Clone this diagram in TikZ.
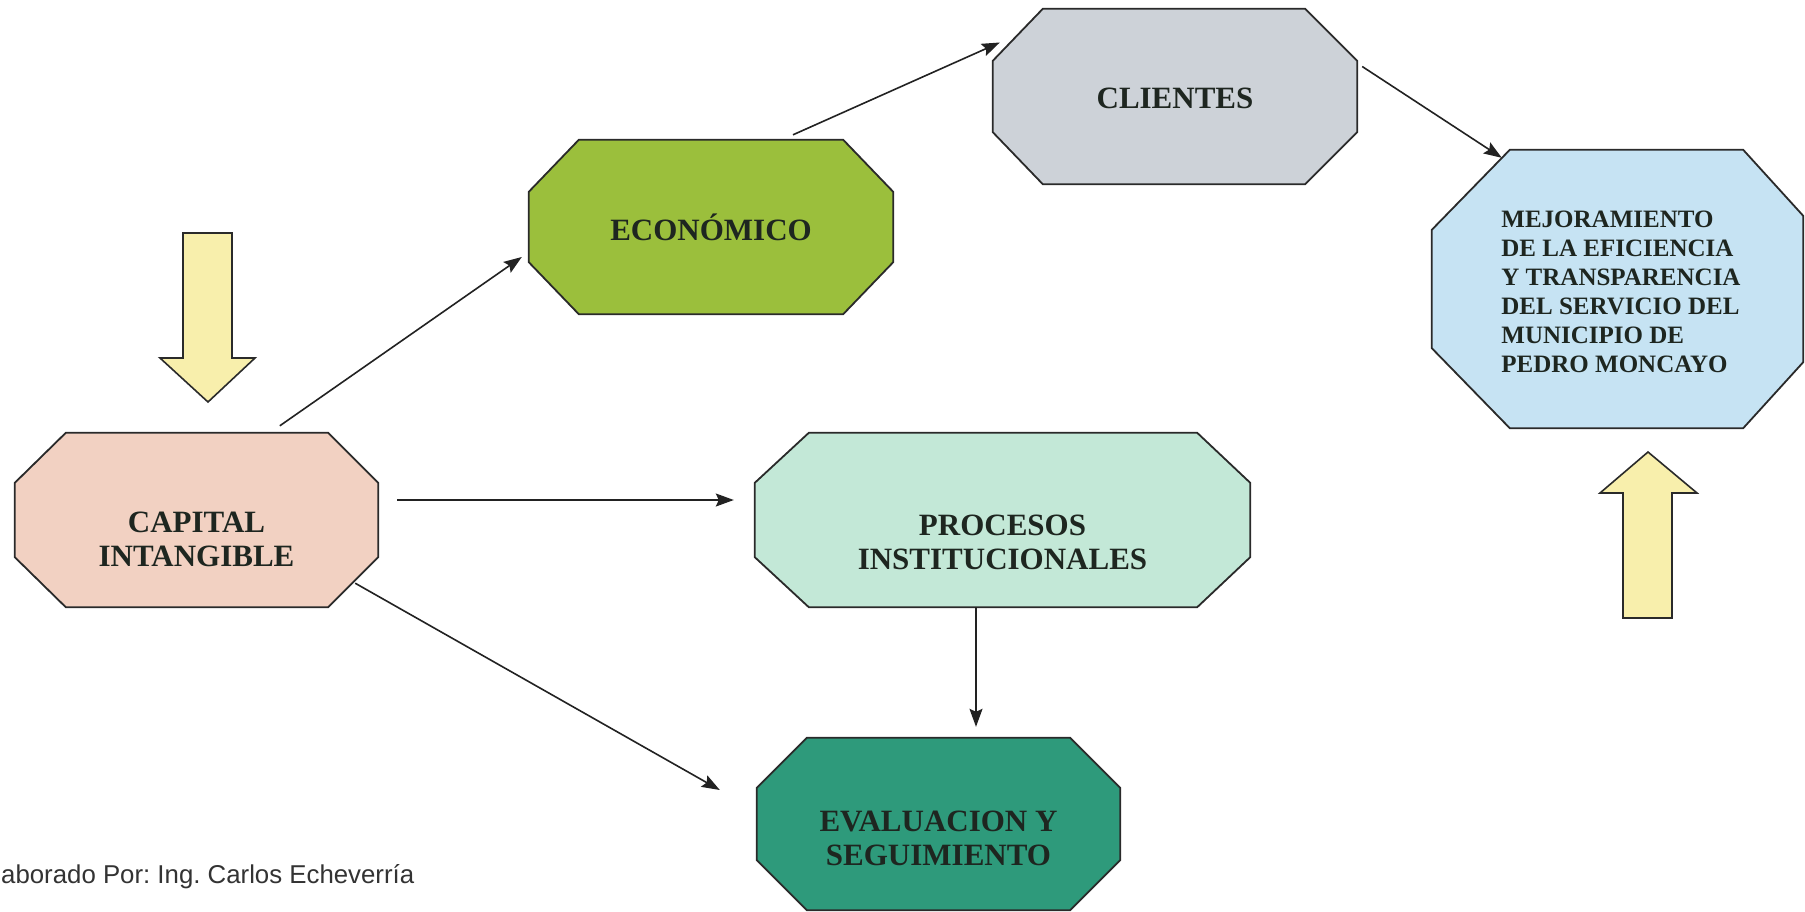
\documentclass[tikz,border=0pt]{standalone}
\usepackage{fontspec}
\setmainfont{Liberation Serif}
\newfontfamily\arialfont{Liberation Sans}
\usetikzlibrary{arrows.meta,calc}
\pgfdeclarelayer{bg}
\pgfsetlayers{bg,main}
\frenchspacing

\definecolor{cPeach}{HTML}{F2D1C2}
\definecolor{cGreen}{HTML}{9BBF3C}
\definecolor{cGray}{HTML}{CDD2D8}
\definecolor{cBlue}{HTML}{C6E3F3}
\definecolor{cMint}{HTML}{C3E8D7}
\definecolor{cTeal}{HTML}{2E9A7B}
\definecolor{cYellow}{HTML}{F8EFAC}
\definecolor{edgec}{HTML}{2A2A2A}
\definecolor{textc}{HTML}{1E2620}
\definecolor{linec}{HTML}{222222}
\definecolor{footc}{HTML}{333333}

\tikzset{
  box/.style={draw=none, inner sep=0pt},
  txt/.style={font=\bfseries\fontsize{31}{34}\selectfont, text=textc, align=center, inner sep=0pt},
  smalltxt/.style={font=\bfseries\fontsize{25}{29}\selectfont, text=textc, align=left, inner sep=0pt},
  conn/.style={line width=1.6pt, draw=linec, -{Stealth[length=18pt,width=13pt,inset=3pt]}},
  octline/.style={draw=edgec, line width=1.8pt, line join=miter},
  blockarrow/.style={draw=edgec, line width=1.6pt, fill=cYellow, line join=miter},
}

% node, left chamfer x, left chamfer y, right chamfer x, right chamfer y, fill
\newcommand\octagonbg[6]{%
  \begin{pgfonlayer}{bg}
  \path[octline, fill=#6] ([xshift=#2pt]#1.north west) -- ([xshift=-#4pt]#1.north east)
    -- ([yshift=-#5pt]#1.north east) -- ([yshift=#5pt]#1.south east)
    -- ([xshift=-#4pt]#1.south east) -- ([xshift=#2pt]#1.south west)
    -- ([yshift=#3pt]#1.south west) -- ([yshift=-#3pt]#1.north west) -- cycle;
  \end{pgfonlayer}}

\begin{document}
\begin{tikzpicture}[x=1pt, y=-1pt]
\path[use as bounding box] (0,0) rectangle (1805,911);
\begin{pgfonlayer}{bg}
\fill[white] (0,0) rectangle (1805,911);
\end{pgfonlayer}
\clip (0,0) rectangle (1805,911);

% nodes
\node[box, minimum width=363pt, minimum height=174pt,
      label={[txt, yshift=-19pt]center:{CAPITAL\\INTANGIBLE}}] (cap) at (196.5,520) {};
\node[box, minimum width=364pt, minimum height=174pt,
      label={[txt]center:{ECONÓMICO}}] (eco) at (711,227) {};
\node[box, minimum width=364pt, minimum height=175pt,
      label={[txt, yshift=-1.5pt]center:{CLIENTES}}] (cli) at (1175,96.5) {};
\node[box, minimum width=371pt, minimum height=278pt,
      label={[smalltxt, xshift=3.5pt, yshift=-3pt]center:{MEJORAMIENTO\\DE LA EFICIENCIA\\Y TRANSPARENCIA\\DEL SERVICIO DEL\\MUNICIPIO DE\\PEDRO MONCAYO}}] (mej) at (1617.5,289) {};
\node[box, minimum width=495pt, minimum height=174pt,
      label={[txt, yshift=-22pt]center:{PROCESOS\\INSTITUCIONALES}}] (pro) at (1002.5,520) {};
\node[box, minimum width=363pt, minimum height=172pt,
      label={[txt, yshift=-14pt]center:{EVALUACION Y\\SEGUIMIENTO}}] (eva) at (938.5,824) {};

\octagonbg{cap}{51}{50}{50}{50}{cPeach}
\octagonbg{eco}{50}{52}{50}{52}{cGreen}
\octagonbg{cli}{50}{52}{52}{52}{cGray}
\octagonbg{mej}{78}{80}{60}{66}{cBlue}
\octagonbg{pro}{54}{50}{53}{50}{cMint}
\octagonbg{eva}{50}{50}{50}{50}{cTeal}

% connectors
\draw[conn] ([shift={(265,-7)}]cap.north west) -- ([shift={(-7,30)}]eco.west);
\draw[conn] ([shift={(82,-5)}]eco.north) -- ([shift={(7,-54)}]cli.west);
\draw[conn] ([shift={(5,-30)}]cli.east) -- ([shift={(70,8)}]mej.north west);
\draw[conn] ([shift={(19,-20)}]cap.east) -- ([shift={(-21,-20)}]pro.west);
\draw[conn] ([shift={(-23,-24)}]cap.south east) -- ([shift={(-37,-34)}]eva.west);
\draw[conn] ([shift={(-26.5,0)}]pro.south) -- ([shift={(37.5,-11)}]eva.north);

% yellow block arrows
\draw[blockarrow] (183,233) -- (232,233) -- (232,358) -- (255,358) -- (208,402)
  -- (160,358) -- (183,358) -- cycle;
\draw[blockarrow] (1648,452) -- (1697,493) -- (1672,493) -- (1672,618)
  -- (1623,618) -- (1623,493) -- (1600,493) -- cycle;

% footer
\node[anchor=base west, inner sep=0pt, text=footc,
      font=\arialfont\fontsize{25.8}{30}\selectfont] (foot) at (1,883)
      {aborado Por: Ing. Carlos Echeverría};
\end{tikzpicture}
\end{document}
